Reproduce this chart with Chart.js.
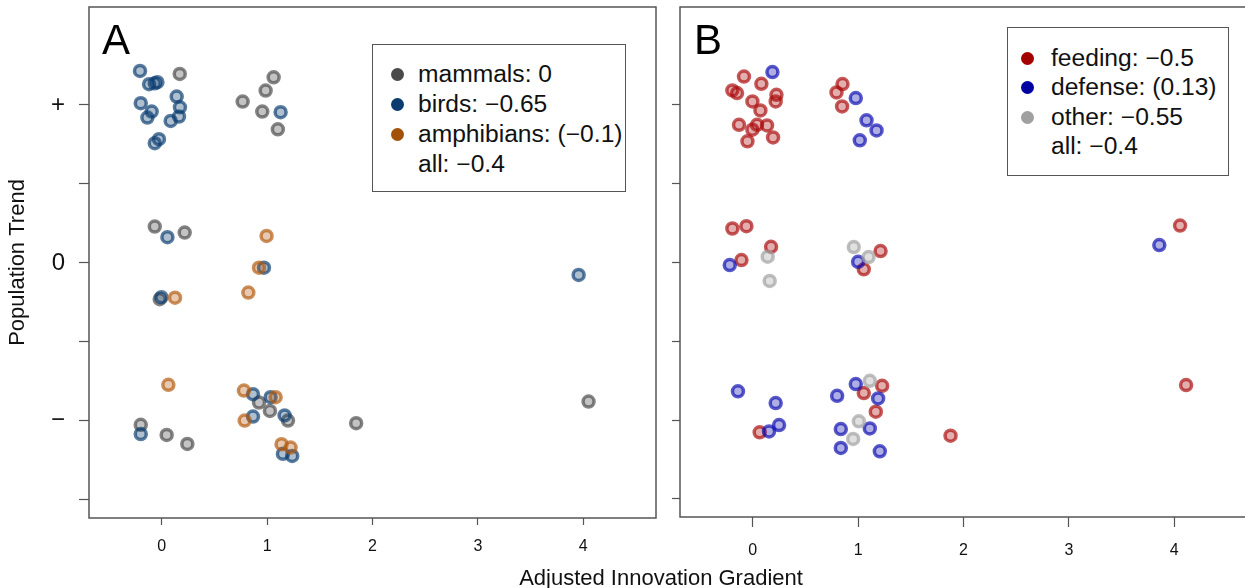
<!DOCTYPE html>
<html>
<head>
<meta charset="utf-8">
<script src="https://cdn.jsdelivr.net/npm/chart.js@4/dist/chart.umd.min.js"></script>
<style>
  html, body { margin:0; padding:0; background:#fff; }
  body { width:1245px; height:588px; overflow:hidden; position:relative; font-family:"Liberation Sans", Arial, sans-serif; color:#111; }
  .cv { position:absolute; top:0; }
  .panel-letter { position:absolute; font-size:42px; line-height:1; color:#000; }
  .legend { position:absolute; border:1.5px solid #555; background:#fff; box-sizing:border-box; }
  .legend .row { position:absolute; font-size:23px; line-height:1; white-space:nowrap; transform:scaleX(1.07); transform-origin:0 50%; }
  .legend .dot { position:absolute; width:13px; height:13px; border-radius:50%; }
  .xtitle { position:absolute; top:567px; left:0; width:1322px; text-align:center; font-size:22px; line-height:1; }
</style>
</head>
<body>
<canvas id="cA" class="cv" style="left:0px" width="660" height="588"></canvas>
<canvas id="cB" class="cv" style="left:660px" width="600" height="588"></canvas>
<div class="panel-letter" style="left:102px; top:19px;">A</div>
<div class="panel-letter" style="left:694px; top:19px;">B</div>
<div id="legA" class="legend" style="left:372px; top:44px; width:254px; height:148px;"></div>
<div id="legB" class="legend" style="left:1007px; top:27px; width:222px; height:149px;"></div>
<div class="xtitle">Adjusted Innovation Gradient</div>
<script>
// ---------- Data ----------
const xTickValues = [0, 1, 2, 3, 4];
const yTickValues = [-1.5, -1, -0.5, 0, 0.5, 1];
const yTickLabels = { "-1": "\u2212", "0": "0", "1": "+" };

// Panel A
const mammalsX = [0.171, 1.062, 0.986, 0.768, 0.954, 1.102, -0.066, 0.218, -0.019, 4.05, -0.199, 0.047, 0.243, 0.923, 1.027, 1.198, 1.845];
const mammalsY = [1.196, 1.175, 1.091, 1.021, 0.958, 0.846, 0.23, 0.192, -0.23, -0.878, -1.025, -1.089, -1.146, -0.884, -0.937, -0.998, -1.015];
const birdsX = [-0.206, -0.12, -0.066, -0.041, -0.199, -0.095, -0.136, 0.142, 0.173, 0.164, 0.085, -0.026, -0.066, 1.128, 0.054, 0.97, -0.003, 3.956, -0.199, 0.866, 1.033, 0.866, 1.166, 1.15, 1.238];
const birdsY = [1.215, 1.131, 1.137, 1.144, 1.011, 0.958, 0.92, 1.053, 0.985, 0.926, 0.899, 0.783, 0.758, 0.954, 0.163, -0.03, -0.217, -0.076, -1.084, -0.831, -0.85, -0.973, -0.966, -1.209, -1.222];
const amphX = [0.995, 0.923, 0.822, 0.126, 0.063, 0.78, 1.081, 0.787, 1.137, 1.223];
const amphY = [0.171, -0.03, -0.188, -0.22, -0.772, -0.808, -0.85, -0.998, -1.148, -1.169];

// Panel B
const feedingX = [-0.083, 0.082, -0.193, -0.149, -0.003, 0.225, 0.218, 0.073, -0.13, 0.041, -0.003, 0.136, -0.05, 0.193, 0.852, 0.795, 0.848, -0.193, -0.06, 0.174, -0.107, 1.213, 1.054, 4.055, 4.112, 0.066, 1.228, 1.054, 1.168, 1.877];
const feedingY = [1.179, 1.133, 1.091, 1.074, 1.021, 1.063, 1.021, 0.964, 0.873, 0.873, 0.842, 0.869, 0.768, 0.793, 1.131, 1.078, 0.989, 0.215, 0.23, 0.099, 0.015, 0.072, -0.044, 0.234, -0.778, -1.078, -0.783, -0.829, -0.947, -1.099];
const defenseX = [0.187, 0.978, 1.08, 1.175, 1.016, -0.218, 1.0, 3.858, -0.14, 0.218, 0.25, 0.155, 0.801, 0.978, 1.19, 0.836, 1.111, 0.836, 1.206];
const defenseY = [1.207, 1.042, 0.901, 0.837, 0.774, -0.017, 0.004, 0.11, -0.818, -0.892, -1.032, -1.072, -0.846, -0.772, -0.863, -1.057, -1.053, -1.177, -1.198];
const otherX = [0.142, 0.161, 0.959, 1.099, 1.111, 1.007, 0.953];
const otherY = [0.036, -0.118, 0.097, 0.034, -0.751, -1.008, -1.12];

const legendA = [
  { label: "mammals: 0", rgb: [74, 74, 74] },
  { label: "birds: \u22120.65", rgb: [10, 60, 112] },
  { label: "amphibians: (\u22120.1)", rgb: [163, 80, 8] },
  { label: "all: \u22120.4", rgb: null }
];
const legendB = [
  { label: "feeding: \u22120.5", rgb: [163, 0, 0] },
  { label: "defense: (0.13)", rgb: [0, 0, 160] },
  { label: "other: \u22120.55", rgb: [160, 160, 160] },
  { label: "all: \u22120.4", rgb: null }
];

// ---------- Helpers ----------
const FONT = "'Liberation Sans', Arial, sans-serif";
const rgba = (c, a) => `rgba(${c[0]},${c[1]},${c[2]},${a})`;
const pts = (xs, ys) => xs.map((x, i) => ({ x: x, y: ys[i] }));
function ds(label, xs, ys, c) {
  return {
    label: label,
    data: pts(xs, ys),
    pointRadius: 5.5,
    pointHoverRadius: 5.5,
    borderWidth: 3.5,
    pointBorderWidth: 3.5,
    borderColor: rgba(c, 0.68),
    backgroundColor: rgba(c, 0.33)
  };
}

const boxPlugin = {
  id: 'box',
  afterDraw(chart) {
    const a = chart.chartArea, ctx = chart.ctx;
    ctx.save();
    ctx.strokeStyle = '#555';
    ctx.lineWidth = 1.5;
    ctx.strokeRect(a.left, a.top, a.right - a.left, a.bottom - a.top);
    ctx.restore();
  }
};

function makeChart(id, datasets, opt) {
  return new Chart(document.getElementById(id), {
    type: 'scatter',
    data: { datasets: datasets },
    options: {
      responsive: false,
      animation: false,
      events: [],
      layout: { autoPadding: false, padding: { left: 0, right: opt.padRight, top: 7, bottom: 0 } },
      plugins: { legend: { display: false }, tooltip: { enabled: false } },
      scales: {
        x: {
          type: 'linear', min: -0.69, max: 4.69,
          afterBuildTicks: s => { s.ticks = xTickValues.map(v => ({ value: v })); },
          afterFit: s => { s.height = opt.xHeight; s.paddingLeft = 0; s.paddingRight = 0; },
          grid: { display: true, drawOnChartArea: false, drawTicks: true, tickLength: opt.xTickLen, tickColor: '#555', tickWidth: 1.2 },
          border: { display: false },
          ticks: { color: '#111', font: { family: FONT, size: 16 }, padding: opt.xPad, maxRotation: 0, autoSkip: false,
                   callback: v => String(v) }
        },
        y: {
          type: 'linear', min: -1.615, max: 1.62,
          afterBuildTicks: s => { s.ticks = yTickValues.map(v => ({ value: v })); },
          afterFit: s => { s.width = opt.yWidth; s.paddingTop = 0; s.paddingBottom = 0; },
          grid: { display: true, drawOnChartArea: false, drawTicks: true, tickLength: opt.yTickLen, tickColor: '#555', tickWidth: 1.2 },
          border: { display: false },
          title: opt.yTitle ? { display: true, text: 'Population Trend', color: '#111', font: { family: FONT, size: 22 }, padding: { top: 5, bottom: 0 } } : { display: false },
          ticks: { display: opt.yLabels, color: '#111', font: { family: FONT, size: 24 }, padding: 14, autoSkip: false,
                   callback: v => (yTickLabels[String(v)] !== undefined ? yTickLabels[String(v)] : '') }
        }
      }
    },
    plugins: [boxPlugin]
  });
}

const cMam = [74, 74, 74], cBird = [10, 60, 112], cAmph = [178, 90, 14];
const cFeed = [170, 10, 10], cDef = [10, 10, 175], cOth = [160, 160, 160];

makeChart('cA', [
  ds('amphibians', amphX, amphY, cAmph),
  ds('birds', birdsX, birdsY, cBird),
  ds('mammals', mammalsX, mammalsY, cMam)
], { padRight: 4, xHeight: 70, xTickLen: 7, xPad: 12, yWidth: 89, yTickLen: 10, yTitle: true, yLabels: true });

makeChart('cB', [
  ds('other', otherX, otherY, cOth),
  ds('defense', defenseX, defenseY, cDef),
  ds('feeding', feedingX, feedingY, cFeed)
], { padRight: 13, xHeight: 71, xTickLen: 10, xPad: 14, yWidth: 20, yTickLen: 8, yTitle: false, yLabels: false });

// ---------- Legends ----------
function buildLegend(id, items, dotX, textX, firstY, step) {
  const el = document.getElementById(id);
  items.forEach((it, i) => {
    const cy = firstY + i * step;
    if (it.rgb) {
      const d = document.createElement('div');
      d.className = 'dot';
      d.style.left = (dotX - 6.5) + 'px';
      d.style.top = (cy - 6.5) + 'px';
      d.style.background = rgba(it.rgb, 1);
      el.appendChild(d);
    }
    const t = document.createElement('div');
    t.className = 'row';
    t.textContent = it.label;
    t.style.left = textX + 'px';
    t.style.top = (cy - 11.5) + 'px';
    el.appendChild(t);
  });
}
buildLegend('legA', legendA, 24, 45, 29, 30);
buildLegend('legB', legendB, 19, 43, 30, 29.5);
</script>
</body>
</html>
